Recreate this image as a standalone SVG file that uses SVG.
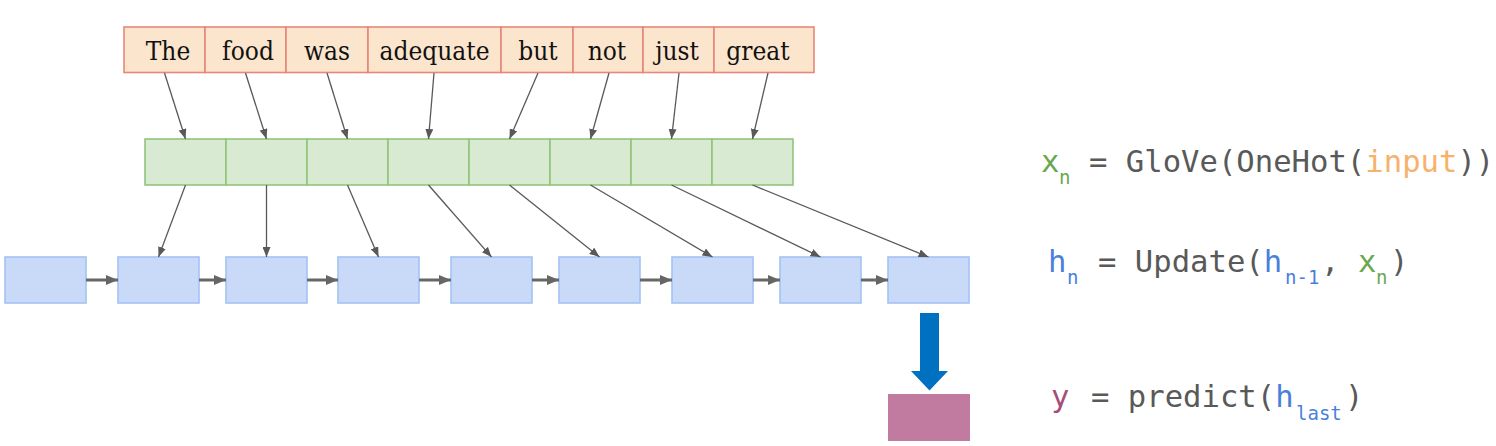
<svg xmlns="http://www.w3.org/2000/svg" width="1496" height="446" viewBox="0 0 1496 446">
<style>
.word{fill:#fce5cd;stroke:#e6877a;stroke-width:1.6}
.wt{font-family:"DejaVu Serif Condensed","DejaVu Serif","Liberation Serif",serif;font-stretch:condensed;font-size:26px;fill:#111;text-anchor:middle}
.emb{fill:#d9ead3;stroke:#93c47d;stroke-width:1.6}
.hid{fill:#c9daf8;stroke:#a4c2f4;stroke-width:1.6}
.thin{stroke:#595959;stroke-width:1.3;fill:none}
.thick{stroke:#666;stroke-width:3;fill:none}
.f{font-family:"DejaVu Sans Mono","Liberation Mono",monospace;font-size:30.6px;fill:#595959}
.s{font-size:19px}
.g{fill:#6aa84f}.o{fill:#f6b26b}.b{fill:#4a7fdc}.p{fill:#a64d79}
</style>
<defs>
<marker id="ah" markerUnits="userSpaceOnUse" markerWidth="10" markerHeight="8" refX="10" refY="4" orient="auto"><path d="M0,0 L10,4 L0,8 z" fill="#595959"/></marker>
<marker id="ah2" markerUnits="userSpaceOnUse" markerWidth="12" markerHeight="10" refX="12" refY="5" orient="auto"><path d="M0,0 L12,5 L0,10 z" fill="#666"/></marker>
</defs>
<g id="words">
<g id="w-the"><rect class="word" x="124" y="27" width="81" height="45.5"/><text class="wt" x="168" y="60">The</text></g>
<g id="w-food"><rect class="word" x="205" y="27" width="81" height="45.5"/><text class="wt" x="248" y="60">food</text></g>
<g id="w-was"><rect class="word" x="286" y="27" width="82" height="45.5"/><text class="wt" x="327" y="60">was</text></g>
<g id="w-adequate"><rect class="word" x="368" y="27" width="133" height="45.5"/><text class="wt" x="434.5" y="60">adequate</text></g>
<g id="w-but"><rect class="word" x="501" y="27" width="72" height="45.5"/><text class="wt" x="538" y="60">but</text></g>
<g id="w-not"><rect class="word" x="573" y="27" width="70" height="45.5"/><text class="wt" x="607" y="60">not</text></g>
<g id="w-just"><rect class="word" x="643" y="27" width="71" height="45.5"/><text class="wt" x="677" y="60">just</text></g>
<g id="w-great"><rect class="word" x="714" y="27" width="100" height="45.5"/><text class="wt" x="758" y="60">great</text></g>
</g>
<g id="embeddings">
<rect id="e1" class="emb" x="145" y="139" width="81" height="46"/>
<rect id="e2" class="emb" x="226" y="139" width="81" height="46"/>
<rect id="e3" class="emb" x="307" y="139" width="81" height="46"/>
<rect id="e4" class="emb" x="388" y="139" width="81" height="46"/>
<rect id="e5" class="emb" x="469" y="139" width="81" height="46"/>
<rect id="e6" class="emb" x="550" y="139" width="81" height="46"/>
<rect id="e7" class="emb" x="631" y="139" width="81" height="46"/>
<rect id="e8" class="emb" x="712" y="139" width="81" height="46"/>
</g>
<g id="hidden">
<rect id="h0" class="hid" x="5" y="257" width="81" height="46"/>
<rect id="h1" class="hid" x="118" y="257" width="81" height="46"/>
<rect id="h2" class="hid" x="226" y="257" width="81" height="46"/>
<rect id="h3" class="hid" x="338" y="257" width="81" height="46"/>
<rect id="h4" class="hid" x="451" y="257" width="81" height="46"/>
<rect id="h5" class="hid" x="559" y="257" width="81" height="46"/>
<rect id="h6" class="hid" x="672" y="257" width="81" height="46"/>
<rect id="h7" class="hid" x="780" y="257" width="81" height="46"/>
<rect id="h8" class="hid" x="888" y="257" width="81" height="46"/>
</g>
<g id="output"><rect x="888" y="394" width="82" height="47" fill="#c27ba0"/></g>
<g id="connectors">
<line class="thin" marker-end="url(#ah)" x1="164.5" y1="73" x2="185.5" y2="139"/>
<line class="thin" marker-end="url(#ah)" x1="245.5" y1="73" x2="266.5" y2="139"/>
<line class="thin" marker-end="url(#ah)" x1="327" y1="73" x2="347.5" y2="139"/>
<line class="thin" marker-end="url(#ah)" x1="434" y1="73" x2="428.5" y2="139"/>
<line class="thin" marker-end="url(#ah)" x1="538" y1="73" x2="509.5" y2="139"/>
<line class="thin" marker-end="url(#ah)" x1="609" y1="73" x2="590.5" y2="139"/>
<line class="thin" marker-end="url(#ah)" x1="679" y1="73" x2="671.5" y2="139"/>
<line class="thin" marker-end="url(#ah)" x1="768" y1="73" x2="752.5" y2="139"/>
<line class="thin" marker-end="url(#ah)" x1="185.5" y1="185" x2="158.5" y2="257"/>
<line class="thin" marker-end="url(#ah)" x1="266.5" y1="185" x2="266.5" y2="257"/>
<line class="thin" marker-end="url(#ah)" x1="347.5" y1="185" x2="378.5" y2="257"/>
<line class="thin" marker-end="url(#ah)" x1="428.5" y1="185" x2="491.5" y2="257"/>
<line class="thin" marker-end="url(#ah)" x1="509.5" y1="185" x2="599.5" y2="257"/>
<line class="thin" marker-end="url(#ah)" x1="590.5" y1="185" x2="712.5" y2="257"/>
<line class="thin" marker-end="url(#ah)" x1="671.5" y1="185" x2="820.5" y2="257"/>
<line class="thin" marker-end="url(#ah)" x1="752.5" y1="185" x2="928.5" y2="257"/>
<line class="thick" marker-end="url(#ah2)" x1="86" y1="280" x2="118" y2="280"/>
<line class="thick" marker-end="url(#ah2)" x1="199" y1="280" x2="226" y2="280"/>
<line class="thick" marker-end="url(#ah2)" x1="307" y1="280" x2="338" y2="280"/>
<line class="thick" marker-end="url(#ah2)" x1="419" y1="280" x2="451" y2="280"/>
<line class="thick" marker-end="url(#ah2)" x1="532" y1="280" x2="559" y2="280"/>
<line class="thick" marker-end="url(#ah2)" x1="640" y1="280" x2="672" y2="280"/>
<line class="thick" marker-end="url(#ah2)" x1="753" y1="280" x2="780" y2="280"/>
<line class="thick" marker-end="url(#ah2)" x1="861" y1="280" x2="888" y2="280"/>
<path d="M920,313 L939,313 L939,371 L948,371 L929.5,390.5 L911,371 L920,371 Z" fill="#0070c0"/>
</g>
<g id="formulas">
<text class="f"><tspan class="g" x="1041" y="172">x</tspan><tspan class="g s" x="1059" y="184">n</tspan><tspan x="1089" y="172">= GloVe(OneHot(</tspan><tspan class="o">input</tspan><tspan>))</tspan></text>
<text class="f"><tspan class="b" x="1048" y="272">h</tspan><tspan class="b s" x="1067" y="284">n</tspan><tspan x="1098" y="272">= Update(</tspan><tspan class="b">h</tspan><tspan class="b s" x="1285" y="284">n-1</tspan><tspan x="1321" y="272">,</tspan><tspan class="g" x="1358" y="272">x</tspan><tspan class="g s" x="1376" y="284">n</tspan><tspan x="1390" y="272">)</tspan></text>
<text class="f"><tspan class="p" x="1051" y="407">y</tspan><tspan x="1091" y="407">= predict(</tspan><tspan class="b">h</tspan><tspan class="b s" x="1296" y="420">last</tspan><tspan x="1345" y="407">)</tspan></text>
</g>
</svg>
